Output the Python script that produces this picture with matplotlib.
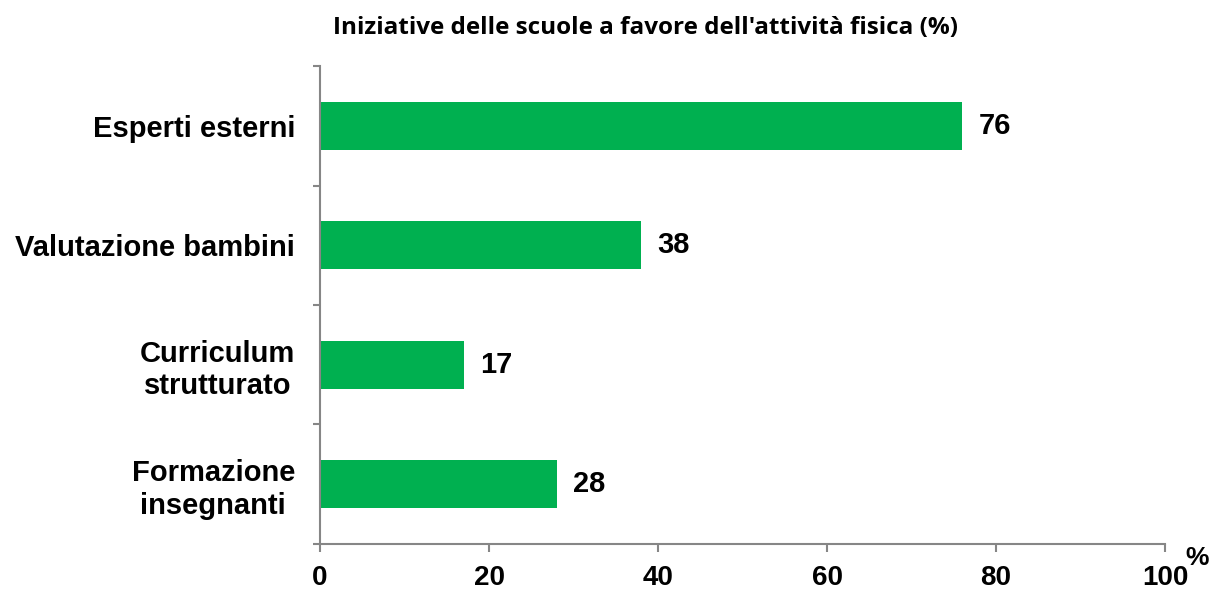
import numpy as np
import matplotlib.pyplot as plt
from matplotlib.ticker import FixedLocator

### Chart data
categories = ['Esperti esterni', 'Valutazione bambini', 'Curriculum\nstrutturato', 'Formazione\ninsegnanti']
values = [76, 38, 17, 28]
x_ticks = [0, 20, 40, 60, 80, 100]
title = "Iniziative delle scuole a favore dell'attività fisica (%)"

#### Figure and axes
fig = plt.figure(figsize=(12.09, 5.92), dpi=100)
ax = fig.add_axes([0.2647, 0.0811, 0.6989, 0.8074])

pos = np.arange(len(categories))[::-1]
ax.barh(pos, values, height=0.4, color='#00B050')

for p, v in zip(pos, values):
    ax.text(v + 1.9, p, str(v), va='center', ha='left', fontsize=21,
            fontweight='bold', family='Liberation Sans')

ax.set_xlim(0, 100)
ax.set_ylim(-0.5, len(categories) - 0.5)
ax.set_xticks(x_ticks)
ax.set_xticklabels([str(t) for t in x_ticks], fontsize=20, fontweight='bold',
                   family='Liberation Sans')
ax.set_yticks(pos)
ax.set_yticklabels(categories, fontsize=21, fontweight='bold',
                   family='Liberation Sans', multialignment='center')
ax.yaxis.set_minor_locator(FixedLocator(np.arange(-0.5, len(categories), 1.0)))

grey = '#868686'
for side in ['top', 'right']:
    ax.spines[side].set_visible(False)
for side in ['left', 'bottom']:
    ax.spines[side].set_color(grey)
    ax.spines[side].set_linewidth(1.5)

ax.tick_params(axis='y', which='major', length=0, pad=18)
ax.tick_params(axis='y', which='minor', length=5, width=1.5, color=grey)
ax.tick_params(axis='x', length=6, width=1.5, color=grey, pad=9)

fig.text(0.534, 0.953, title, ha='center', va='center', fontsize=17.5,
         fontweight='bold', family='Open Sans')
fig.text(0.99, 0.058, '%', ha='center', va='center', fontsize=19,
         fontweight='bold', family='Liberation Sans')

fig.savefig('out.png', dpi=100)
